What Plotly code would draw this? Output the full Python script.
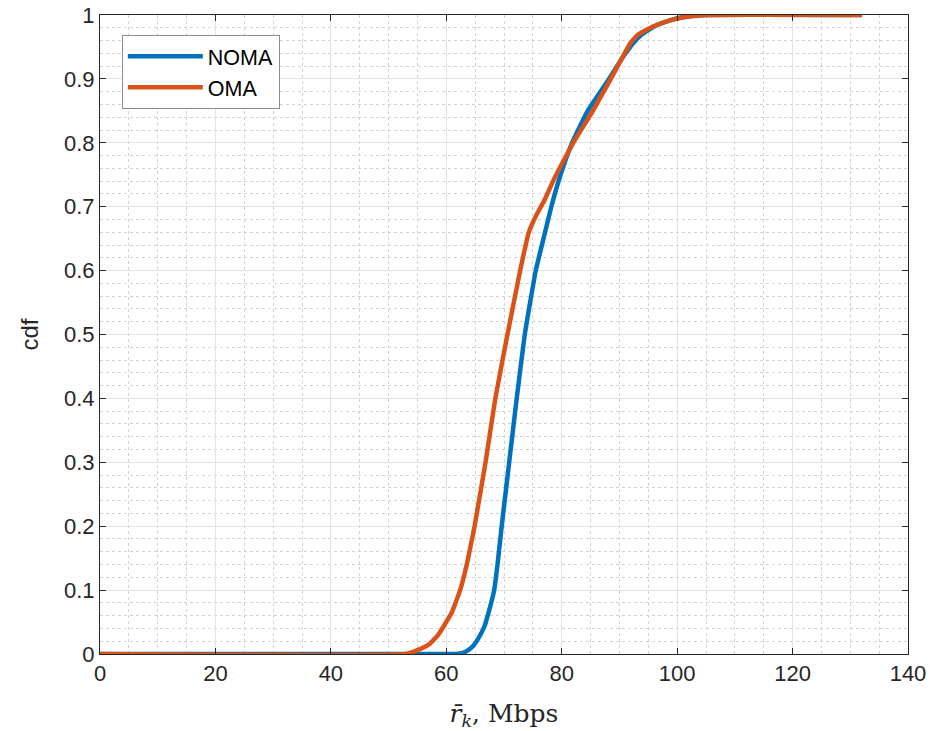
import plotly.graph_objects as go

# Data
noma_x = [0, 60, 62, 63, 63.8, 64.6, 65.4, 66.6, 67.3, 68.3, 68.9, 69.6, 70.9, 72.2, 73.6, 75.5,
          77.2, 78.2, 79.8, 81.8, 84.5, 88.2, 90.3, 92.4, 93.8, 96.0, 98.9, 101.1, 105, 132]
noma_y = [0, 0, 0.0005, 0.002, 0.006, 0.012, 0.022, 0.043, 0.064, 0.1, 0.142, 0.2, 0.3, 0.4,
          0.5, 0.6, 0.663, 0.7, 0.75, 0.8, 0.85, 0.9, 0.93, 0.956, 0.969, 0.982, 0.992, 0.997, 1, 1]

oma_x = [0, 53, 55, 57, 58.6, 60.9, 62.4, 63.6, 64.9, 66.8, 68.5, 70.6, 72.8, 74.3, 75.5, 77.0,
         78.6, 80.2, 82.0, 85.4, 88.5, 90.3, 91.9, 93.2, 95.8, 98.9, 101.5, 106, 132]
oma_y = [0, 0, 0.006, 0.015, 0.03, 0.064, 0.1, 0.142, 0.2, 0.3, 0.4, 0.5, 0.6, 0.66, 0.685,
         0.71, 0.742, 0.77, 0.8, 0.85, 0.9, 0.93, 0.956, 0.969, 0.982, 0.992, 0.997, 1, 1]

x_ticks = [0, 20, 40, 60, 80, 100, 120, 140]
y_ticks = [0, 0.1, 0.2, 0.3, 0.4, 0.5, 0.6, 0.7, 0.8, 0.9, 1]
y_tick_labels = ["0", "0.1", "0.2", "0.3", "0.4", "0.5", "0.6", "0.7", "0.8", "0.9", "1"]

fig = go.Figure()
fig.add_trace(go.Scatter(x=noma_x, y=noma_y, mode="lines", name="NOMA",
                         line=dict(color="#0072BD", width=4.5, shape="spline", smoothing=0.35)))
fig.add_trace(go.Scatter(x=oma_x, y=oma_y, mode="lines", name="OMA",
                         line=dict(color="#D95319", width=4.5, shape="spline", smoothing=0.35)))

sans = "Liberation Sans, Arial, sans-serif"
tickfont = dict(family=sans, size=22, color="#262626")

fig.update_layout(
    width=930, height=731,
    margin=dict(l=100, r=22, t=15, b=77),
    paper_bgcolor="white", plot_bgcolor="white",
    showlegend=True,
    legend=dict(x=0.027, y=0.969, xanchor="left", yanchor="top",
                bgcolor="white", bordercolor="#8c8c8c", borderwidth=1,
                font=dict(family=sans, size=21.5, color="black"),
                itemwidth=75, tracegroupgap=0),
    xaxis=dict(range=[0, 140], tickvals=x_ticks, ticktext=[str(v) for v in x_ticks],
               ticks="inside", ticklen=6, tickcolor="#262626", mirror="ticks",
               showline=True, linecolor="#262626", linewidth=1, automargin=False,
               ticklabeloverflow="allow",
               showgrid=True, gridcolor="#e3e3e3", gridwidth=1, zeroline=False,
               tickfont=tickfont,
               minor=dict(dtick=5, tick0=0, showgrid=True, gridcolor="#d2d2d2",
                          griddash="3px,3px", gridwidth=1),
               title=dict(text="<i>r̄</i><sub><i>k</i></sub>, Mbps",
                          font=dict(family="DejaVu Serif, Liberation Serif, serif", size=25, color="#262626"),
                          standoff=22)),
    yaxis=dict(range=[0, 1], tickvals=y_ticks, ticktext=y_tick_labels,
               ticks="inside", ticklen=6, tickcolor="#262626", mirror="ticks",
               showline=True, linecolor="#262626", linewidth=1, automargin=False,
               ticklabeloverflow="allow",
               showgrid=True, gridcolor="#e3e3e3", gridwidth=1, zeroline=False,
               tickfont=tickfont,
               minor=dict(dtick=0.02, tick0=0, showgrid=True, gridcolor="#d2d2d2",
                          griddash="3px,3px", gridwidth=1),
               title=dict(text="cdf",
                          font=dict(family=sans, size=24, color="#262626"),
                          standoff=18)),
)

# remove the browser's default 8px body margin so the figure sits at the window's corner
fig.write_html("out.html", config={"displayModeBar": False},
               post_script="document.body.style.margin='0px';")
